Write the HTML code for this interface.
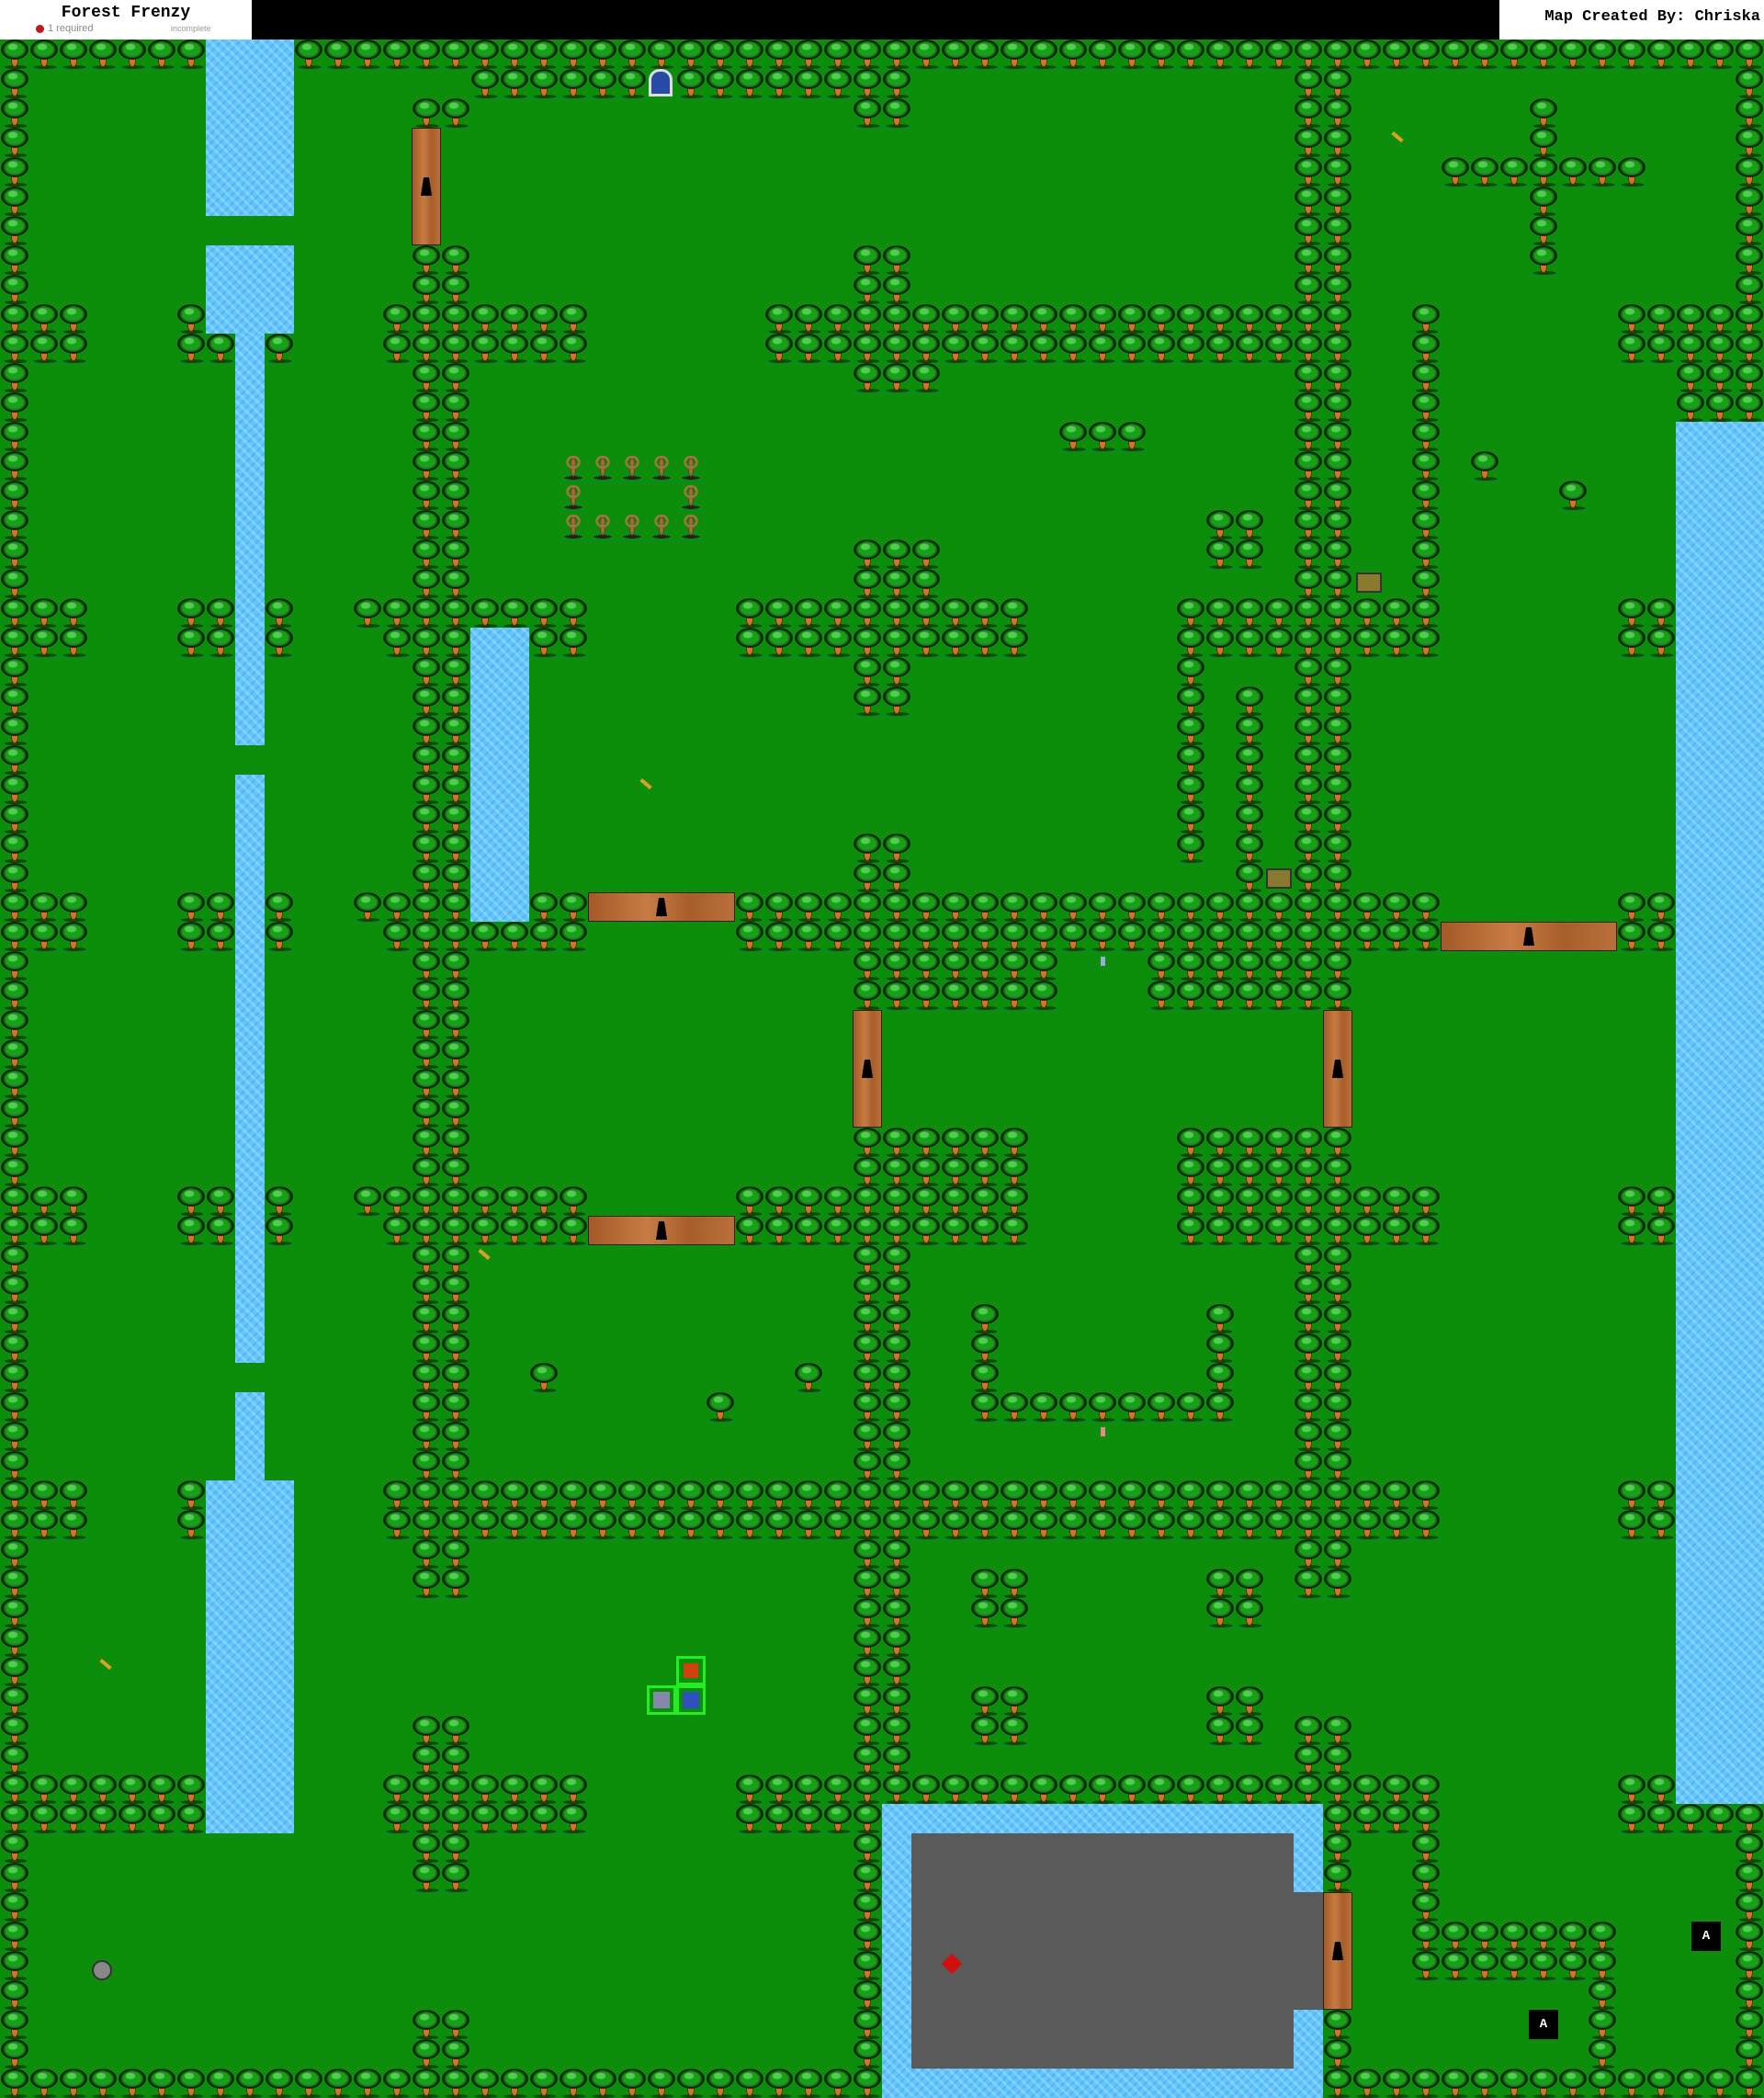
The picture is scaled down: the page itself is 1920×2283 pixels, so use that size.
<!DOCTYPE html>
<html><head><meta charset="utf-8">
<style>
html,body{margin:0;padding:0;}
body{width:1920px;height:2283px;position:relative;background:#000;overflow:hidden;font-family:"Liberation Sans",sans-serif;}
#map{position:absolute;left:0;top:43px;width:1920px;height:2240px;background:#0c8d0c;}
.r{position:absolute;}
.t{background-image:
 radial-gradient(ellipse 6px 4px at 14px 8px,#4ed04e 0 70%,transparent 100%),
 radial-gradient(ellipse 15px 11px at 16px 11px,#1a9e1a 0 66%,#0a6a0a 72% 82%,#021a02 84% 96%,transparent 100%),
 radial-gradient(ellipse 4px 9px at 16px 22px,#d8741e 0 75%,#5a2a08 82% 95%,transparent 100%),
 radial-gradient(ellipse 13px 2px at 17px 30px,#044804 0 90%,transparent 100%);
 background-size:32px 32px;}
.d{background-image:
 radial-gradient(ellipse 11px 10px at 16px 12px,transparent 0 45%,#a87444 50% 68%,transparent 72%),
 radial-gradient(ellipse 3px 12px at 16px 17px,#9a6a3a 0 80%,#4a2a10 85% 95%,transparent 100%),
 radial-gradient(ellipse 10px 2px at 16px 29px,#222 0 90%,transparent 100%);
 background-size:32px 32px;}
.w{background:#62c6fc;background-image:repeating-linear-gradient(45deg,rgba(255,255,255,.22) 0 3px,transparent 3px 8px),repeating-linear-gradient(-45deg,rgba(30,120,230,.25) 0 2px,transparent 2px 7px);}
.g{background:#5a5a5a;}
.door{background:linear-gradient(90deg,#a45a26,#c87b44 40%,#a85e2a 70%,#b9703a);border:1px solid #3a1a08;box-sizing:border-box;}
.door::after{content:"";position:absolute;left:50%;top:50%;width:12px;height:20px;margin:-10px 0 0 -6px;background:radial-gradient(circle at 6px 6px,#000 0 6px,transparent 6.5px),linear-gradient(to top,#000 0 10px,transparent 10px);clip-path:polygon(25% 0,75% 0,100% 100%,0 100%);}
.A{position:absolute;width:32px;height:32px;background:#000;color:#fff;font:bold 14px "Liberation Mono",monospace;text-align:center;line-height:32px;}
</style></head><body>
<div style="position:absolute;left:0;top:0;width:274px;height:43px;background:#fff;">
 <div style="position:absolute;left:0;width:274px;top:4px;text-align:center;font:bold 18px 'Liberation Mono',monospace;color:#000;">Forest Frenzy</div>
 <div style="position:absolute;left:39px;top:27px;width:9px;height:9px;border-radius:50%;background:#c01818;"></div>
 <div style="position:absolute;left:52px;top:25px;font-size:11px;color:#888;">1 required</div>
 <div style="position:absolute;left:186px;top:26px;font-size:9px;color:#999;">incomplete</div>
</div>
<div style="position:absolute;left:1632px;top:0;width:288px;height:43px;background:#fff;">
 <div style="position:absolute;right:4px;top:9px;font:bold 17px 'Liberation Mono',monospace;color:#000;">Map Created By: Chriska</div>
</div>
<div id="map"></div>
<script>
var m=document.getElementById('map');
function R(c,x,y,w,h){var d=document.createElement('div');d.className='r '+c;d.style.left=x*32+'px';d.style.top=y*32+'px';d.style.width=w*32+'px';d.style.height=h*32+'px';m.appendChild(d);return d;}
[[7,0,3,6],[7,7,3,3],[8,10,1,14],[8,25,1,20],[8,46,1,3],[7,49,3,12],[16,20,2,10],[57,13,3,47],[30,60,15,10]].forEach(a=>R('w',...a));
R('g',31,61,13,8);R('g',44,63,1,4);
var T=[
[0,0,7,1],[10,0,50,1],[0,1,1,69],[0,69,30,1],[45,69,15,1],[59,1,1,9],[57,11,3,2],[59,60,1,9],
[16,1,6,1],[23,1,8,1],[44,1,2,1],[14,2,2,1],[29,2,2,1],[44,2,2,7],
[14,7,2,2],[29,7,2,2],[52,2,1,6],[49,4,7,1],
[0,9,3,2],[6,9,1,1],[6,10,2,1],[9,10,1,1],[13,9,7,2],[26,9,20,2],[48,9,1,10],[55,9,5,2],
[29,11,3,1],[14,11,2,8],[44,11,2,8],[36,13,3,1],[41,16,2,2],[50,14,1,1],[53,15,1,1],[29,17,3,2],
[0,19,3,2],[6,19,2,2],[9,19,1,2],[12,19,8,1],[13,20,3,1],[18,20,2,1],[25,19,10,2],[40,19,9,2],[55,19,2,2],
[29,21,2,2],[14,21,2,8],[44,21,2,8],[40,21,1,7],[42,22,1,7],[29,27,2,2],
[0,29,3,2],[6,29,2,2],[9,29,1,2],[12,29,4,1],[13,30,7,1],[18,29,2,1],[25,29,24,1],[25,30,24,1],[55,29,2,2],
[29,31,7,2],[39,31,7,2],[14,31,2,8],[29,37,6,2],[40,37,6,2],
[0,39,3,2],[6,39,2,2],[9,39,1,2],[12,39,8,1],[13,40,7,1],[25,39,10,2],[40,39,9,2],[55,39,2,2],
[14,41,2,8],[29,41,2,8],[44,41,2,8],[33,43,1,3],[41,43,1,3],[33,46,9,1],[18,45,1,1],[24,46,1,1],[27,45,1,1],
[0,49,3,2],[6,49,1,2],[13,49,36,2],[55,49,2,2],
[14,51,2,2],[29,51,2,8],[44,51,2,2],[33,52,2,2],[41,52,2,2],[33,56,2,2],[41,56,2,2],[44,57,2,2],[14,57,2,2],
[0,59,7,2],[13,59,7,2],[25,59,24,1],[25,60,5,1],[45,60,4,1],[55,59,2,1],[55,60,5,1],
[14,61,2,2],[29,61,1,8],[45,61,1,2],[45,67,1,2],[48,61,1,3],[48,64,7,2],[54,66,1,3],[14,67,2,2]
];
T.forEach(a=>R('t',...a));
R('d',19,14,5,1);R('d',19,15,1,1);R('d',23,15,1,1);R('d',19,16,5,1);
[[14,3,1,4],[20,29,5,1],[49,30,6,1],[29,33,1,4],[45,33,1,4],[20,40,5,1],[45,63,1,4]].forEach(a=>R('door',...a));
function P(x,y,w,h,st){var d=document.createElement('div');d.className='r';d.style.cssText+='left:'+x+'px;top:'+y+'px;width:'+w+'px;height:'+h+'px;'+st;m.appendChild(d);}
P(706,32,26,30,'background:#2a4aa8;border:3px solid #ddd;border-radius:12px 12px 0 0;box-sizing:border-box;');
P(1476,580,28,22,'background:#8a7a30;border:2px solid #333;box-sizing:border-box;');
P(1378,902,28,22,'background:#8a7a30;border:2px solid #333;box-sizing:border-box;');
P(1028,2086,16,16,'background:#d01010;transform:rotate(45deg);');
P(100,2090,22,22,'background:#888;border-radius:50%;border:2px solid #333;box-sizing:border-box;');
P(736,1759,32,32,'outline:3px solid #22ee22;outline-offset:-3px;background:#d04010;background-clip:content-box;padding:8px;box-sizing:border-box;');
P(704,1791,32,32,'outline:3px solid #22ee22;outline-offset:-3px;background:#8888aa;background-clip:content-box;padding:7px;box-sizing:border-box;');
P(736,1791,32,32,'outline:3px solid #22ee22;outline-offset:-3px;background:#3050c0;background-clip:content-box;padding:7px;box-sizing:border-box;');
[[1514,104],[696,808],[520,1320],[108,1766]].forEach(p=>P(p[0],p[1],14,4,'background:#e0a020;transform:rotate(40deg);'));
P(1198,998,5,10,'background:#9ad;');P(1198,1510,5,10,'background:#e88;');
</script>
<div class="A" style="left:1841px;top:2091px;">A</div>
<div class="A" style="left:1664px;top:2187px;">A</div>
</body></html>
